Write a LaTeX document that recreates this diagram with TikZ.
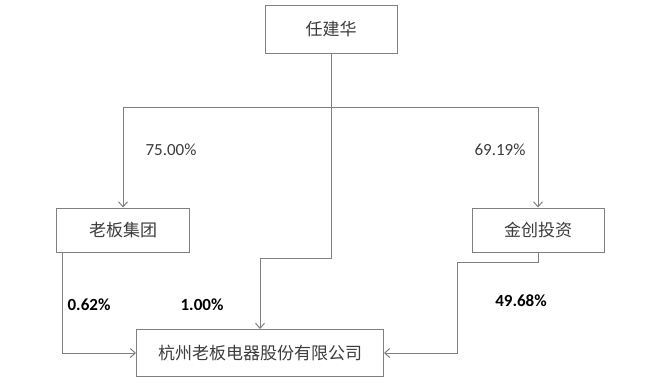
\documentclass[tikz,border=0pt]{standalone}
\usepackage{fontspec}
\setmainfont{Carlito}
\newfontfamily\cjk{Noto Sans CJK SC}
\usetikzlibrary{arrows.meta,calc}
\definecolor{linegray}{RGB}{128,128,128}
\definecolor{textgray}{RGB}{60,60,60}

\begin{document}
\begin{tikzpicture}[x=1pt,y=-1pt,
    every node/.style={text=textgray},
    box/.style={draw=linegray, line width=1pt, fill=white, inner sep=0pt,
        font=\cjk\fontsize{17}{20}\selectfont},
    pct/.style={font=\fontsize{17}{20}\selectfont},
    bpct/.style={pct, font=\bfseries\fontsize{17}{20}\selectfont, text=black},
    wire/.style={draw=linegray, line width=1pt},
    link/.style={wire, -{Straight Barb[length=5pt,width=9pt]}}]
    \useasboundingbox (0,0) rectangle (651,383);

    \node[box, minimum width=132pt, minimum height=48pt] (rjh) at (331,29) {任建华};
    \node[box, minimum width=133pt, minimum height=44pt] (lbjt) at (123,230) {老板集团};
    \node[box, minimum width=132pt, minimum height=44pt] (jctz) at (538,230) {金创投资};
    \node[box, minimum width=247pt, minimum height=47pt] (lbdq) at (260,353) {杭州老板电器股份有限公司};

    \coordinate (fork) at (331,107);
    \coordinate (mid) at (331,258);
    \coordinate (lout) at ($(lbjt.south west)!0.05!(lbjt.south east)$);
    \coordinate (rturn) at (457,262);

    \draw[wire] (rjh.south) -- (fork);
    \draw[link] (fork) -| (lbjt.north);
    \draw[link] (fork) -| (jctz.north);
    \draw[link] (rjh.south) -- (mid) -| (lbdq.north);
    \draw[link] (lout) |- (lbdq.west);
    \draw[link] (jctz.south) |- (rturn) |- (lbdq.east);

    \node[pct] (p75) at (171,150) {75.00\%};
    \node[pct] (p69) at (500,150) {69.19\%};
    \node[bpct] (p062) at (89,305) {0.62\%};
    \node[bpct] (p100) at (202,305) {1.00\%};
    \node[bpct] (p4968) at (521,301) {49.68\%};
\end{tikzpicture}
\end{document}
